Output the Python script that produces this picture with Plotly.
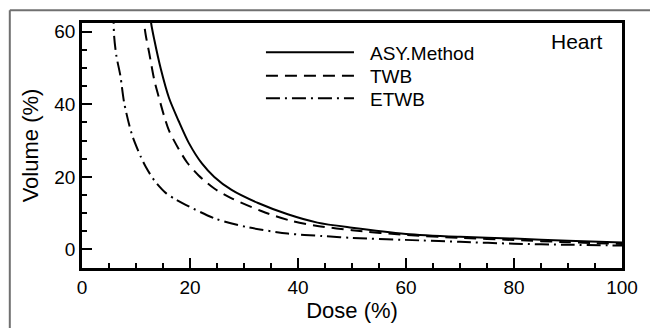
import plotly.graph_objects as go

# ---- data ----
asy_dose = [12.6, 12.8, 13.4, 14.6, 16.1, 17.9, 19.8, 22.2, 24.5, 27.7, 32.6, 38.1, 43.6, 50, 60, 70, 80, 90, 100]
asy_vol = [66, 62.4, 57.7, 49.7, 41.8, 35.4, 29.3, 23.7, 20.0, 16.4, 12.8, 9.7, 7.4, 6.0, 4.3, 3.5, 3.0, 2.4, 1.9]

twb_dose = [11.4, 11.5, 11.8, 12.45, 13.4, 14.2, 15.2, 16.1, 17.9, 19.5, 21.6, 24.5, 27.7, 33.2, 38.7, 43.6, 50, 60, 70, 80, 90, 100]
twb_vol = [66, 62.4, 59.1, 54.1, 46.6, 42.1, 36.8, 32.8, 27.7, 23.9, 20.4, 16.8, 14.1, 10.6, 7.9, 6.5, 5.3, 4.0, 3.2, 2.6, 2.0, 1.5]

etwb_dose = [5.85, 5.86, 5.95, 6.36, 7.09, 7.8, 8.8, 9.4, 10.9, 11.8, 13.4, 15.5, 17.3, 19.2, 24.7, 30.8, 38.1, 44.5, 50, 62.6, 70, 80, 90, 100]
etwb_vol = [66, 62.4, 58.8, 53.4, 48.0, 40.5, 34.0, 31.0, 25.5, 22.8, 19.0, 15.6, 13.8, 12.3, 8.5, 6.1, 4.4, 3.7, 3.2, 2.5, 2.1, 1.6, 1.3, 1.1]

series_names = ["ASY.Method", "TWB", "ETWB"]
x_ticks = [0, 20, 40, 60, 80, 100]
y_ticks = [0, 20, 40, 60]

FONT = "Liberation Sans, Arial, sans-serif"
W, H = 650, 328
ML, MR, MT, MB = 82, 22, 23, 54
PW, PH = W - ML - MR, H - MT - MB

def px(xp):
    return (xp - ML) / PW

def py(yp):
    return (H - MB - yp) / PH

dashes = ["solid", "12px,7px", "14px,5px,2px,5px"]

fig = go.Figure()
for d, v, name, dash in zip([asy_dose, twb_dose, etwb_dose], [asy_vol, twb_vol, etwb_vol], series_names, dashes):
    fig.add_trace(go.Scatter(x=d, y=v, mode="lines", name=name,
                             line=dict(color="black", width=2, dash=dash, shape="spline", smoothing=0.8),
                             showlegend=False))

shapes = []
annotations = []
# outer frame (only left and top edges visible in the crop)
shapes.append(dict(type="line", xref="paper", yref="paper",
                   x0=px(9), x1=px(9), y0=py(340), y1=py(10),
                   line=dict(color="#707070", width=2), layer="below"))
shapes.append(dict(type="line", xref="paper", yref="paper",
                   x0=px(9), x1=px(660), y0=py(10), y1=py(10),
                   line=dict(color="#707070", width=2), layer="below"))
# manual legend
leg_y = [53, 77, 100]
for name, dash, yy in zip(series_names, dashes, leg_y):
    shapes.append(dict(type="line", xref="paper", yref="paper",
                       x0=px(268), x1=px(357), y0=py(yy), y1=py(yy),
                       line=dict(color="black", width=2, dash=dash)))
    annotations.append(dict(xref="paper", yref="paper", x=px(371), y=py(yy + 1),
                            xanchor="left", yanchor="middle", showarrow=False,
                            text=name, font=dict(family=FONT, size=19, color="black")))
annotations.append(dict(xref="paper", yref="paper", x=px(611), y=py(42),
                        xanchor="right", yanchor="middle", showarrow=False,
                        text="Heart", font=dict(family=FONT, size=21, color="black")))

axis_common = dict(showline=True, linecolor="black", linewidth=2.5, mirror=True,
                   ticks="inside", ticklen=10, tickwidth=2, tickcolor="black",
                   showgrid=False, zeroline=False,
                   tickfont=dict(family=FONT, size=19, color="black"))

fig.update_layout(
    width=W, height=H,
    margin=dict(l=ML, r=MR, t=MT, b=MB),
    paper_bgcolor="white", plot_bgcolor="white",
    shapes=shapes, annotations=annotations,
    xaxis=dict(range=[0, 100], tickvals=x_ticks,
               minor=dict(dtick=5, ticks="inside", ticklen=5, tickwidth=1.5, tickcolor="black", showgrid=False),
               title=dict(text="Dose (%)", font=dict(family=FONT, size=22, color="black"), standoff=3),
               **axis_common),
    yaxis=dict(range=[-5.1, 62.4], tickvals=y_ticks,
               minor=dict(dtick=5, ticks="inside", ticklen=5, tickwidth=1.5, tickcolor="black", showgrid=False),
               title=dict(text="Volume (%)", font=dict(family=FONT, size=22, color="black"), standoff=10),
               **axis_common),
)

fig.write_html("out.html")
